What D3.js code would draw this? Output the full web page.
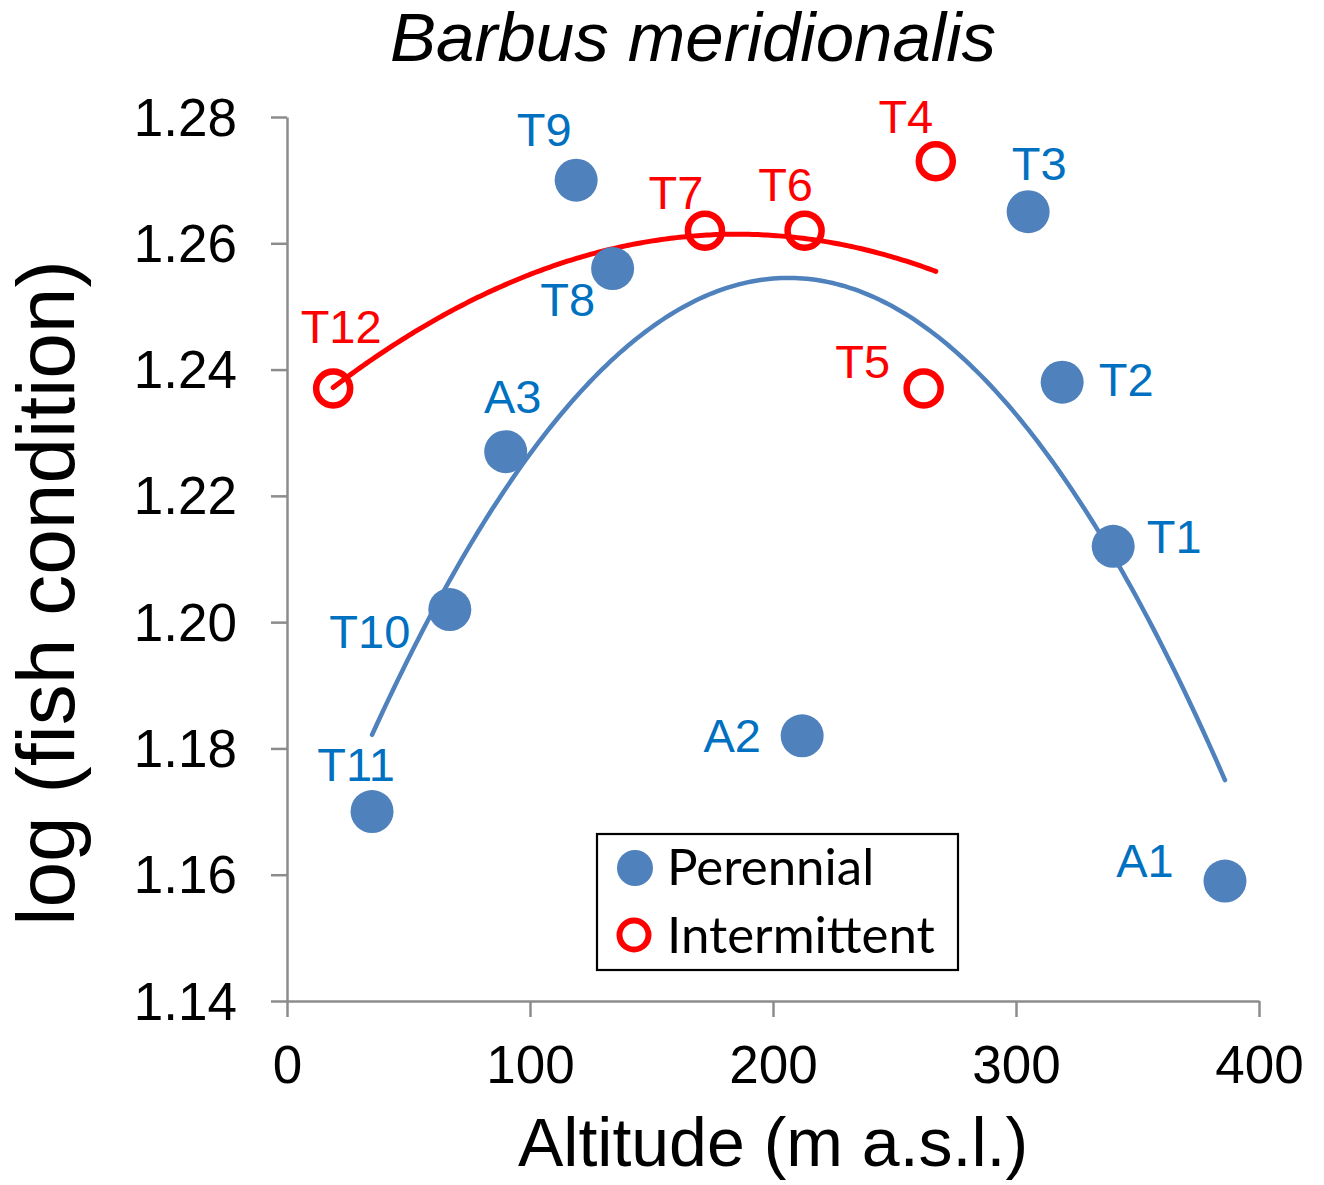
<!DOCTYPE html>
<html>
<head>
<meta charset="utf-8">
<script src="https://cdn.jsdelivr.net/npm/d3@7"></script>
<style>
  html, body { margin: 0; padding: 0; background: #fff; }
  svg { display: block; }
  text { font-family: "Liberation Sans", Arial, sans-serif; }
</style>
</head>
<body>
<svg id="chart" width="1324" height="1185"></svg>
<script>
// ---------- data ----------
const perennialSites = ["T9", "T8", "A3", "T10", "T11", "A2", "T3", "T2", "T1", "A1"];
const perennialAltitude = [119, 134, 90, 67, 35, 212, 305, 319, 340, 386];
const perennialCondition = [1.270, 1.256, 1.227, 1.202, 1.170, 1.182, 1.265, 1.238, 1.212, 1.159];

const intermittentSites = ["T12", "T7", "T6", "T4", "T5"];
const intermittentAltitude = [19, 172, 213, 267, 262];
const intermittentCondition = [1.237, 1.262, 1.262, 1.273, 1.237];

const xTicks = [0, 100, 200, 300, 400];
const yTicks = [1.14, 1.16, 1.18, 1.20, 1.22, 1.24, 1.26, 1.28];
const legendLabels = ["Perennial", "Intermittent"];

// ---------- layout ----------
const W = 1324, H = 1185;
const blue = "#4F81BD", blueText = "#0070C0", red = "#FF0000", axisGray = "#8C8C8C";
const svg = d3.select("#chart");
const x = d3.scaleLinear().domain([0, 400]).range([287, 1259]);
const y = d3.scaleLinear().domain([1.14, 1.28]).range([1001, 117]);

// label offsets (px) relative to marker centre: [dx, dy baseline]
const labelOffset = {
  T9: [-32, -34], T8: [-45, 47], A3: [7, -39], T10: [-80, 38], T11: [-16, -31],
  A2: [-70, 16], T3: [11, -32], T2: [64, 14], T1: [61, 7], A1: [-80, -4],
  T12: [8, -46], T7: [-29, -22], T6: [-19, -30], T4: [-30, -28], T5: [-61, -11]
};

// ---------- axes ----------
const yAxis = svg.append("g").attr("transform", `translate(${x(0)},0)`)
  .call(d3.axisLeft(y).tickValues(yTicks).tickSize(16).tickSizeOuter(0).tickPadding(34)
    .tickFormat(d3.format(".2f")));
const xAxis = svg.append("g").attr("transform", `translate(0,${y(1.14)})`)
  .call(d3.axisBottom(x).tickValues(xTicks).tickSize(16).tickSizeOuter(0).tickPadding(28)
    .tickFormat(d3.format("d")));
[yAxis, xAxis].forEach(g => {
  g.select(".domain").attr("stroke", axisGray).attr("stroke-width", 2.5);
  g.selectAll(".tick line").attr("stroke", axisGray).attr("stroke-width", 2.5);
  g.selectAll(".tick text").attr("fill", "#000").style("font-size", "53px")
    .style("font-family", '"Liberation Sans", Arial, sans-serif');
});
yAxis.selectAll(".tick text").attr("dy", "0.34em");

// ---------- titles ----------
svg.append("text").attr("x", 693).attr("y", 61).attr("text-anchor", "middle")
  .style("font-size", "69px").style("font-style", "italic").text("Barbus meridionalis");
svg.append("text").attr("x", 773).attr("y", 1166).attr("text-anchor", "middle")
  .style("font-size", "68px").text("Altitude (m a.s.l.)");
svg.append("text").attr("transform", "translate(74,593) rotate(-90)").attr("text-anchor", "middle")
  .style("font-size", "82px").text("log (fish condition)");

// ---------- quadratic least-squares trendlines ----------
function quadFit(xs, ys) {
  const n = xs.length;
  let s = [0, 0, 0, 0, 0], t = [0, 0, 0];
  for (let i = 0; i < n; i++) {
    const xi = xs[i], yi = ys[i];
    for (let k = 0; k <= 4; k++) s[k] += Math.pow(xi, k);
    for (let k = 0; k <= 2; k++) t[k] += yi * Math.pow(xi, k);
  }
  const A = [[s[0], s[1], s[2], t[0]], [s[1], s[2], s[3], t[1]], [s[2], s[3], s[4], t[2]]];
  for (let c = 0; c < 3; c++) {
    let p = c;
    for (let r = c + 1; r < 3; r++) if (Math.abs(A[r][c]) > Math.abs(A[p][c])) p = r;
    [A[c], A[p]] = [A[p], A[c]];
    for (let r = 0; r < 3; r++) if (r !== c) {
      const f = A[r][c] / A[c][c];
      for (let k = c; k < 4; k++) A[r][k] -= f * A[c][k];
    }
  }
  return [A[0][3] / A[0][0], A[1][3] / A[1][1], A[2][3] / A[2][2]];
}
function trend(xs, ys, color, width) {
  const co = quadFit(xs, ys);
  const [lo, hi] = d3.extent(xs);
  const pts = d3.range(0, 201).map(i => {
    const xv = lo + (hi - lo) * i / 200;
    return [xv, co[0] + co[1] * xv + co[2] * xv * xv];
  });
  svg.append("path").datum(pts)
    .attr("d", d3.line().x(d => x(d[0])).y(d => y(d[1])))
    .attr("fill", "none").attr("stroke", color).attr("stroke-width", width)
    .attr("stroke-linecap", "round");
}
trend(perennialAltitude, perennialCondition, blue, 4.5);
trend(intermittentAltitude, intermittentCondition, red, 5);

// ---------- points ----------
const perennial = perennialSites.map((s, i) => ({ s, a: perennialAltitude[i], c: perennialCondition[i] }));
const intermittent = intermittentSites.map((s, i) => ({ s, a: intermittentAltitude[i], c: intermittentCondition[i] }));

svg.append("g").selectAll("circle").data(perennial).join("circle")
  .attr("cx", d => x(d.a)).attr("cy", d => y(d.c)).attr("r", 21.5).attr("fill", blue);
svg.append("g").selectAll("circle").data(intermittent).join("circle")
  .attr("cx", d => x(d.a)).attr("cy", d => y(d.c)).attr("r", 17)
  .attr("fill", "none").attr("stroke", red).attr("stroke-width", 6.5);

svg.append("g").selectAll("text").data(perennial).join("text")
  .attr("x", d => x(d.a) + labelOffset[d.s][0]).attr("y", d => y(d.c) + labelOffset[d.s][1])
  .attr("text-anchor", "middle").attr("fill", blueText).style("font-size", "47px").text(d => d.s);
svg.append("g").selectAll("text").data(intermittent).join("text")
  .attr("x", d => x(d.a) + labelOffset[d.s][0]).attr("y", d => y(d.c) + labelOffset[d.s][1])
  .attr("text-anchor", "middle").attr("fill", red).style("font-size", "47px").text(d => d.s);

// ---------- legend ----------
const lg = svg.append("g");
lg.append("rect").attr("x", 597).attr("y", 834).attr("width", 361).attr("height", 136)
  .attr("fill", "#fff").attr("stroke", "#000").attr("stroke-width", 2.2);
lg.append("circle").attr("cx", 635).attr("cy", 868).attr("r", 18).attr("fill", blue);
lg.append("circle").attr("cx", 634).attr("cy", 935).attr("r", 14.5)
  .attr("fill", "none").attr("stroke", red).attr("stroke-width", 6);
lg.selectAll("text.lab").data(legendLabels).join("text").attr("class", "lab")
  .attr("x", 667).attr("y", (d, i) => 885 + i * 68)
  .style("font-family", "Lato, 'Open Sans', sans-serif").style("font-size", "51px")
  .attr("fill", "#000").text(d => d);
</script>
</body>
</html>
